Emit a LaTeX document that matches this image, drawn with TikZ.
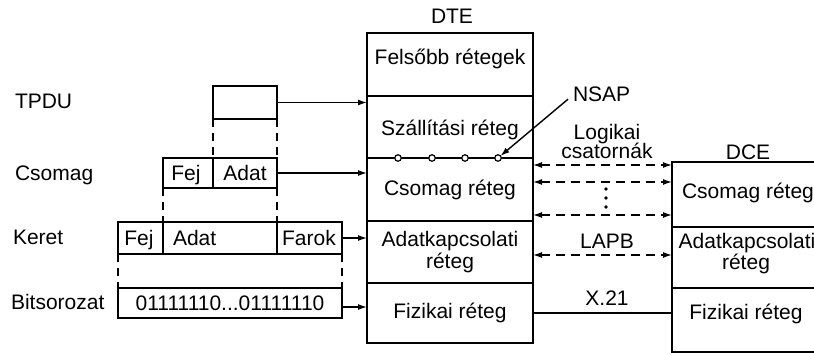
\documentclass[tikz,border=0pt]{standalone}
\usepackage{fontspec}
\setmainfont{Liberation Sans}
\usetikzlibrary{arrows.meta}
\newcommand{\figfont}{\fontsize{21}{24}\selectfont}
\begin{document}
\begin{tikzpicture}[x=1pt,y=-1pt,
  every node/.style={inner sep=0pt,outer sep=0pt},
  lay/.style={draw,line width=1.5pt,minimum width=166pt},
  dlay/.style={draw,line width=1.5pt,minimum width=170pt},
  pdu/.style={draw,line width=1.5pt},
  txt/.style={anchor=base,font=\figfont},
  ltxt/.style={anchor=base west,font=\figfont},
  arr/.style={line width=1.4pt,-{Latex[length=9pt,width=6pt]}},
  darr/.style={line width=1.4pt,dash pattern=on 9pt off 6pt,{Latex[length=9pt,width=6pt]}-{Latex[length=9pt,width=6pt]}},
  guide/.style={line width=1.4pt,dash pattern=on 8pt off 6pt},
  sap/.style={circle,draw,line width=1.2pt,fill=white,minimum size=6.5pt},
  dotmark/.style={circle,fill,minimum size=3.8pt}]
\useasboundingbox (0,0) rectangle (814,354);
\clip (0,0) rectangle (814,354);

% DTE stack
\node[lay,minimum height=63pt] (f)  at (450,64.5) {};
\node[lay,minimum height=62pt] (s)  at (450,127) {};
\node[lay,minimum height=63pt] (cs) at (450,189.5) {};
\node[lay,minimum height=62pt] (ad) at (450,252) {};
\node[lay,minimum height=60pt] (fz) at (450,313) {};
\node[txt] (tf)  at (450,64)  {Felsőbb rétegek};
\node[txt] (ts)  at (450,135) {Szállítási réteg};
\node[txt] (tcs) at (450,195) {Csomag réteg};
\node[txt] (tad1) at (450,246) {Adatkapcsolati};
\node[txt] (tad2) at (450,268) {réteg};
\node[txt] (tfz) at (450,318) {Fizikai réteg};
\node[txt] (dte) at (452,23) {DTE};

% DCE stack (runs off the right edge)
\node[dlay,minimum height=65pt] (dcs) at (757,194.5) {};
\node[dlay,minimum height=61pt] (dad) at (757,257.5) {};
\node[dlay,minimum height=64pt] (dfz) at (757,320) {};
\node[txt] (tdcs)  at (748,198) {Csomag réteg};
\node[txt] (tdad1) at (747,248) {Adatkapcsolati};
\node[txt] (tdad2) at (746,269) {réteg};
\node[txt] (tdfz)  at (746,319) {Fizikai réteg};
\node[txt] (dce) at (748,159) {DCE};

% PDU boxes
\node[pdu,minimum width=64pt,minimum height=33pt] (tpdu) at (245,102.5) {};
\node[pdu,minimum width=50pt,minimum height=30pt] (cfej) at (188,173) {};
\node[pdu,minimum width=64pt,minimum height=30pt] (cadat) at (245,173) {};
\node[pdu,minimum width=45pt,minimum height=32pt] (kfej) at (140.5,238) {};
\node[pdu,minimum width=114pt,minimum height=32pt] (kadat) at (220,238) {};
\node[pdu,minimum width=65pt,minimum height=32pt] (kfarok) at (309.5,238) {};
\node[pdu,minimum width=224pt,minimum height=30pt] (bits) at (230,303) {};
\node[txt] (tcfej) at (186,180) {Fej};
\node[txt] (tcadat) at (245,180) {Adat};
\node[txt] (tkfej) at (139,245) {Fej};
\node[ltxt] (tkadat) at (173,245) {Adat};
\node[txt] (tkfarok) at (309,245) {Farok};
\node[txt] (tbits) at (230,310) {01111110...01111110};

% left labels
\node[ltxt] (ltpdu) at (15,108) {TPDU};
\node[ltxt] (lcsomag) at (15,180) {Csomag};
\node[ltxt] (lkeret) at (13,244) {Keret};
\node[ltxt] (lbits) at (11,309) {Bitsorozat};

% dashed guides
\draw[guide] (tpdu.south west) -- (cadat.north west);
\draw[guide] (tpdu.south east) -- (cadat.north east);
\draw[guide] (cfej.south west) -- (kadat.north west);
\draw[guide] (cadat.south east) -- (kadat.north east);
\draw[guide] (kfej.south west) -- (bits.north west);
\draw[guide] (kfarok.south east) -- (bits.north east);

% arrows into DTE
\draw[arr] (tpdu.east) -- (tpdu.east -| s.west);
\draw[arr] (cadat.east) -- (cadat.east -| cs.west);
\draw[arr] (kfarok.east) -- (kfarok.east -| ad.west);
\coordinate (b1) at ([yshift=-4pt]bits.east);
\draw[arr] (b1) -- (b1 -| fz.west);

% NSAP circles
\node[sap] (c1) at (398,158) {};
\node[sap] (c2) at (432,158) {};
\node[sap] (c3) at (465,158) {};
\node[sap] (c4) at (498,158) {};
\node[ltxt] (nsap) at (573,101) {NSAP};
\draw[arr] ([xshift=-5pt,yshift=2pt]nsap.south west) -- (c4);

% channels
\node[txt] (log1) at (607,139) {Logikai};
\node[txt] (log2) at (607,158) {csatornák};
\draw[darr] (cs.east |- 0,165) -- (dcs.west |- 0,165);
\draw[darr] (cs.east |- 0,182) -- (dcs.west |- 0,182);
\draw[darr] (cs.east |- 0,215) -- (dcs.west |- 0,215);
\node[dotmark] (d1) at (606,189) {};
\node[dotmark] (d2) at (606,198) {};
\node[dotmark] (d3) at (606,207) {};
\node[txt] (lapb) at (607,248) {LAPB};
\draw[darr] (ad.east |- 0,255) -- (dad.west |- 0,255);
\node[txt] (x21) at (607,305) {X.21};
\draw[line width=1.4pt] (fz.east |- 0,313) -- (dfz.west |- 0,313);
\end{tikzpicture}
\end{document}
